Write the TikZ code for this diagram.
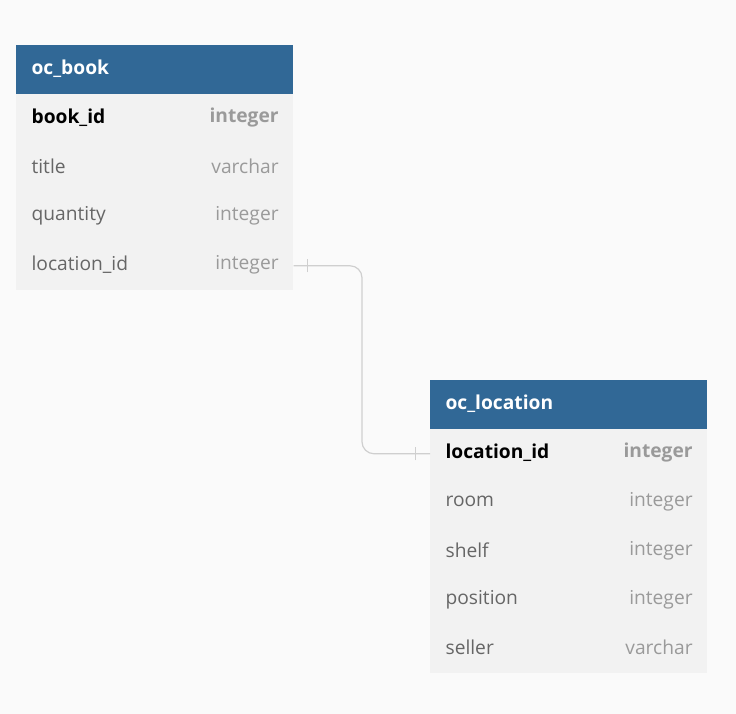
\documentclass[tikz,border=0pt]{standalone}
\usepackage{fontspec}
\setmainfont{Open Sans}
\usetikzlibrary{positioning}
\definecolor{headblue}{HTML}{316896}
\definecolor{rowgrey}{HTML}{F2F2F2}
\definecolor{pagegrey}{HTML}{FAFAFA}
\definecolor{typegrey}{HTML}{9A9A9A}
\definecolor{namegrey}{HTML}{666666}
\definecolor{linegrey}{HTML}{CFCFCF}

\begin{document}
\begin{tikzpicture}[x=0.75pt, y=-0.75pt,
    header/.style={fill=headblue, minimum width=207.75pt, minimum height=36.75pt, inner sep=0pt, anchor=north west},
    row/.style={fill=rowgrey, minimum width=207.75pt, minimum height=36.75pt, inner sep=0pt, anchor=north west},
    title/.style={text=white, font=\fontsize{14.4}{17}\selectfont\bfseries, anchor=west, inner sep=0pt, xshift=11.5pt, yshift=0.8pt},
    keyname/.style={text=black, font=\fontsize{14.4}{17}\selectfont\bfseries, anchor=west, inner sep=0pt, xshift=11.5pt, yshift=0.8pt},
    fieldname/.style={text=namegrey, font=\fontsize{14.4}{17}\selectfont, anchor=west, inner sep=0pt, xshift=11.5pt, yshift=0.8pt},
    keytype/.style={text=typegrey, font=\fontsize{14.4}{17}\selectfont\bfseries, anchor=east, inner sep=0pt, xshift=-11pt, yshift=0.8pt},
    fieldtype/.style={text=typegrey, font=\fontsize{14.4}{17}\selectfont, anchor=east, inner sep=0pt, xshift=-11pt, yshift=0.8pt},
    connector/.style={draw=linegrey, line width=0.9pt}]
  \fill[pagegrey] (0,0) rectangle (736,714);
  \useasboundingbox (0,0) rectangle (736,714);

  % table oc_book
  \node[header] (book-h) at (16,45) {};
  \node[title] at (book-h.west) {oc\_book};
  \node[row] (book-r1) at (16,94) {};
  \node[row] (book-r2) at (16,143) {};
  \node[row] (book-r3) at (16,192) {};
  \node[row] (book-r4) at (16,241) {};
  \node[keyname] at (book-r1.west) {book\_id};
  \node[keytype] at (book-r1.east) {integer};
  \node[fieldname] at (book-r2.west) {title};
  \node[fieldtype] at (book-r2.east) {varchar};
  \node[fieldname] at (book-r3.west) {quantity};
  \node[fieldtype] at (book-r3.east) {integer};
  \node[fieldname] at (book-r4.west) {location\_id};
  \node[fieldtype] at (book-r4.east) {integer};

  % table oc_location
  \node[header] (loc-h) at (430,380) {};
  \node[title] at (loc-h.west) {oc\_location};
  \node[row] (loc-r1) at (430,429) {};
  \node[row] (loc-r2) at (430,478) {};
  \node[row] (loc-r3) at (430,527) {};
  \node[row] (loc-r4) at (430,576) {};
  \node[row] (loc-r5) at (430,624) {};
  \node[keyname] at (loc-r1.west) {location\_id};
  \node[keytype] at (loc-r1.east) {integer};
  \node[fieldname] at (loc-r2.west) {room};
  \node[fieldtype] at (loc-r2.east) {integer};
  \node[fieldname] at (loc-r3.west) {shelf};
  \node[fieldtype] at (loc-r3.east) {integer};
  \node[fieldname] at (loc-r4.west) {position};
  \node[fieldtype] at (loc-r4.east) {integer};
  \node[fieldname] at (loc-r5.west) {seller};
  \node[fieldtype] at (loc-r5.east) {varchar};

  % relation
  \coordinate (bend) at (362,0);
  \draw[connector, rounded corners=9pt] (book-r4.east) -| (bend |- loc-r1.west) -- (loc-r1.west);
  \draw[connector] ([xshift=10.5pt, yshift=-5pt]book-r4.east) -- ([xshift=10.5pt, yshift=5pt]book-r4.east);
  \draw[connector] ([xshift=-11pt, yshift=-5pt]loc-r1.west) -- ([xshift=-11pt, yshift=5pt]loc-r1.west);
\end{tikzpicture}
\end{document}
